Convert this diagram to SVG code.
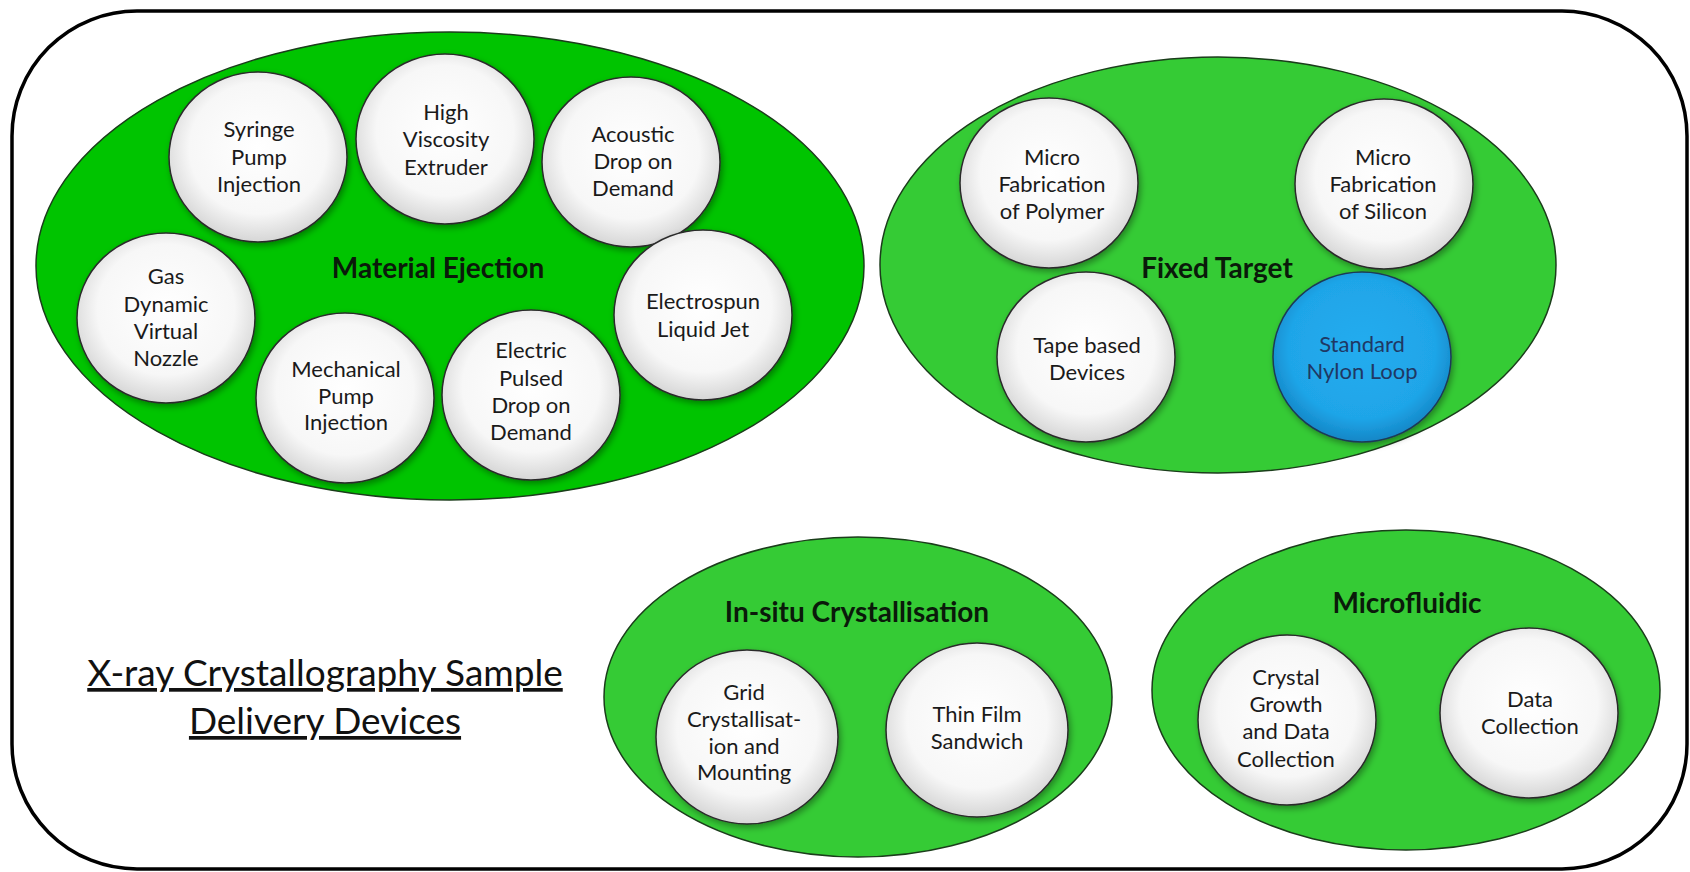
<svg xmlns="http://www.w3.org/2000/svg" width="1690" height="872" viewBox="0 0 1690 872">
<defs>
<radialGradient id="gWhite" cx="50%" cy="45%" r="55%">
<stop offset="0" stop-color="#ffffff"/>
<stop offset="0.7" stop-color="#f7f7f7"/>
<stop offset="1" stop-color="#d6d6d6"/>
</radialGradient>
<radialGradient id="gBlue" cx="50%" cy="45%" r="55%">
<stop offset="0" stop-color="#24acef"/>
<stop offset="0.75" stop-color="#1fa5e8"/>
<stop offset="1" stop-color="#1486c6"/>
</radialGradient>
<filter id="sh" x="-20%" y="-20%" width="150%" height="150%">
<feDropShadow dx="2" dy="3" stdDeviation="3" flood-color="#000" flood-opacity="0.35"/>
</filter>
</defs>
<style>
.frame{fill:#fff;stroke:#000;stroke-width:3.5}
.grp1{fill:#00c400;stroke:#1b3d1b;stroke-width:1.5}
.grp{fill:#35cb35;stroke:#1b3d1b;stroke-width:1.5}
.node{fill:url(#gWhite);stroke:#2b2b2b;stroke-width:1.5;filter:url(#sh)}
.blue{fill:url(#gBlue);stroke:#1d3a55;stroke-width:1.5;filter:url(#sh)}
.t{font-family:Lato,"Open Sans","Liberation Sans",sans-serif;font-size:22px;fill:#1a1a1a;text-anchor:middle}
.tb{fill:#1f3864}
.lbl{font-family:Lato,"Open Sans","Liberation Sans",sans-serif;font-size:28px;font-weight:bold;fill:#0a1a0a;text-anchor:middle}
.title{font-family:Lato,"Open Sans","Liberation Sans",sans-serif;font-size:37px;fill:#111;text-anchor:middle;text-decoration:underline}
</style>
<rect class="frame" x="12" y="11" width="1675" height="858" rx="125" ry="125"/>
<g id="connectors"/>

<g id="material-ejection">
<ellipse class="grp1" cx="450" cy="266" rx="414" ry="234"/>
<text class="lbl" x="438" y="278">Material Ejection</text>
</g>
<g id="syringe-pump-injection">
<ellipse class="node" cx="258" cy="157" rx="89" ry="85"/>
<text class="t" x="259" y="137">Syringe</text><text class="t" x="259" y="165">Pump</text><text class="t" x="259" y="192">Injection</text>
</g>
<g id="high-viscosity-extruder">
<ellipse class="node" cx="445" cy="139" rx="89" ry="85"/>
<text class="t" x="446" y="120">High</text><text class="t" x="446" y="147">Viscosity</text><text class="t" x="446" y="175">Extruder</text>
</g>
<g id="acoustic-drop-on-demand">
<ellipse class="node" cx="631" cy="162" rx="89" ry="85"/>
<text class="t" x="633" y="142">Acoustic</text><text class="t" x="633" y="169">Drop on</text><text class="t" x="633" y="196">Demand</text>
</g>
<g id="gas-dynamic-virtual-nozzle">
<ellipse class="node" cx="166" cy="318" rx="89" ry="85"/>
<text class="t" x="166" y="284">Gas</text><text class="t" x="166" y="312">Dynamic</text><text class="t" x="166" y="339">Virtual</text><text class="t" x="166" y="366">Nozzle</text>
</g>
<g id="mechanical-pump-injection">
<ellipse class="node" cx="345" cy="398" rx="89" ry="85"/>
<text class="t" x="346" y="377">Mechanical</text><text class="t" x="346" y="404">Pump</text><text class="t" x="346" y="430">Injection</text>
</g>
<g id="electric-pulsed-drop-on-demand">
<ellipse class="node" cx="531" cy="395" rx="89" ry="85"/>
<text class="t" x="531" y="358">Electric</text><text class="t" x="531" y="386">Pulsed</text><text class="t" x="531" y="413">Drop on</text><text class="t" x="531" y="440">Demand</text>
</g>
<g id="electrospun-liquid-jet">
<ellipse class="node" cx="703" cy="315" rx="89" ry="85"/>
<text class="t" x="703" y="309">Electrospun</text><text class="t" x="703" y="337">Liquid Jet</text>
</g>

<g id="fixed-target">
<ellipse class="grp" cx="1218" cy="265" rx="338" ry="208"/>
<text class="lbl" x="1217" y="278">Fixed Target</text>
</g>
<g id="micro-fabrication-polymer">
<ellipse class="node" cx="1049" cy="183" rx="89" ry="85"/>
<text class="t" x="1052" y="165">Micro</text><text class="t" x="1052" y="192">Fabrication</text><text class="t" x="1052" y="219">of Polymer</text>
</g>
<g id="micro-fabrication-silicon">
<ellipse class="node" cx="1384" cy="184" rx="89" ry="85"/>
<text class="t" x="1383" y="165">Micro</text><text class="t" x="1383" y="192">Fabrication</text><text class="t" x="1383" y="219">of Silicon</text>
</g>
<g id="tape-based-devices">
<ellipse class="node" cx="1086" cy="357" rx="89" ry="85"/>
<text class="t" x="1087" y="353">Tape based</text><text class="t" x="1087" y="380">Devices</text>
</g>
<g id="standard-nylon-loop">
<ellipse class="blue" cx="1362" cy="357" rx="89" ry="85"/>
<text class="t tb" x="1362" y="352">Standard</text><text class="t tb" x="1362" y="379">Nylon Loop</text>
</g>

<g id="in-situ-crystallisation">
<ellipse class="grp" cx="858" cy="697" rx="254" ry="160"/>
<text class="lbl" x="857" y="622">In-situ Crystallisation</text>
</g>
<g id="grid-crystallisation">
<ellipse class="node" cx="747" cy="737" rx="91" ry="87"/>
<text class="t" x="744" y="700">Grid</text><text class="t" x="744" y="727">Crystallisat-</text><text class="t" x="744" y="754">ion and</text><text class="t" x="744" y="780">Mounting</text>
</g>
<g id="thin-film-sandwich">
<ellipse class="node" cx="977" cy="730" rx="91" ry="87"/>
<text class="t" x="977" y="722">Thin Film</text><text class="t" x="977" y="749">Sandwich</text>
</g>

<g id="microfluidic">
<ellipse class="grp" cx="1406" cy="690" rx="254" ry="160"/>
<text class="lbl" x="1407" y="613">Microfluidic</text>
</g>
<g id="crystal-growth-data-collection">
<ellipse class="node" cx="1287" cy="720" rx="89" ry="85"/>
<text class="t" x="1286" y="685">Crystal</text><text class="t" x="1286" y="712">Growth</text><text class="t" x="1286" y="739">and Data</text><text class="t" x="1286" y="767">Collection</text>
</g>
<g id="data-collection">
<ellipse class="node" cx="1529" cy="713" rx="89" ry="85"/>
<text class="t" x="1530" y="707">Data</text><text class="t" x="1530" y="734">Collection</text>
</g>

<g id="title">
<text class="title" x="325" y="686">X-ray Crystallography Sample</text>
<text class="title" x="325" y="734">Delivery Devices</text>
</g>
</svg>
